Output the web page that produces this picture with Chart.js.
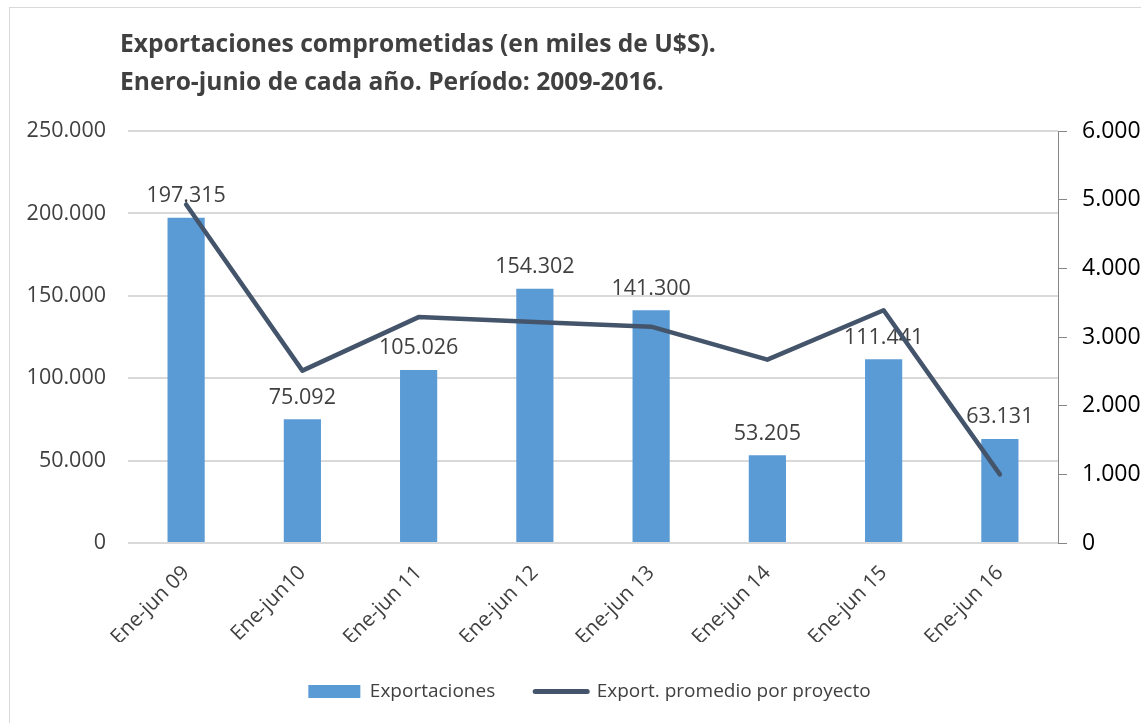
<!DOCTYPE html>
<html>
<head>
<meta charset="utf-8">
<script src="https://cdn.jsdelivr.net/npm/chart.js@4.4.0/dist/chart.umd.min.js"></script>
<style>
  html, body { margin: 0; padding: 0; background: #fff; overflow: hidden; }
  #wrap { position: relative; width: 1141px; height: 723px; }
  #frame { position: absolute; left: 9px; top: 7px; width: 1200px; height: 740px; border: 1px solid #d9d9d9; }
  canvas { position: absolute; left: 0; top: 0; }
</style>
</head>
<body>
<div id="wrap">
  <div id="frame"></div>
  <canvas id="chart" width="1141" height="723"></canvas>
</div>
<script>
// Exportaciones comprometidas, enero-junio 2009-2016
const categories = ['Ene-jun 09', 'Ene-jun10', 'Ene-jun 11', 'Ene-jun 12', 'Ene-jun 13', 'Ene-jun 14', 'Ene-jun 15', 'Ene-jun 16'];
const exportaciones = [197315, 75092, 105026, 154302, 141300, 53205, 111441, 63131];
const promedioProyecto = [4930, 2510, 3290, 3220, 3150, 2670, 3390, 1000];
const titleLines = ['Exportaciones comprometidas (en miles de U$S).', 'Enero-junio de cada año. Período: 2009-2016.'];

const FONT = '"Open Sans", "Noto Sans", sans-serif';
const TEXT = '#404040';
const BAR = '#5B9BD5';
const LINE = '#44546A';

function fmt(v) {
    return String(Math.round(v)).replace(/\B(?=(\d{3})+(?!\d))/g, '.');
}

// title drawn top-left, like the spreadsheet chart
const titlePlugin = {
    id: 'sheetTitle',
    afterDraw(chart) {
        const ctx = chart.ctx;
        ctx.save();
        ctx.fillStyle = TEXT;
        ctx.font = 'bold 24.6px ' + FONT;
        ctx.textBaseline = 'middle';
        ctx.textAlign = 'left';
        ctx.fillText(titleLines[0], 120, 45);
        ctx.fillText(titleLines[1], 120, 83);
        ctx.restore();
    }
};

// value labels above the bars, drawn before the line so the line sits on top
const barLabels = {
    id: 'barLabels',
    afterDatasetDraw(chart, args) {
        if (args.index !== 0) return;
        const ctx = chart.ctx;
        ctx.save();
        ctx.fillStyle = TEXT;
        ctx.font = '21.5px ' + FONT;
        ctx.textAlign = 'center';
        ctx.textBaseline = 'bottom';
        args.meta.data.forEach((bar, i) => {
            ctx.fillText(fmt(exportaciones[i]), bar.x, bar.y - 11);
        });
        ctx.restore();
    }
};

// the original chart is wider than the window, so its legend sits right of centre
const legendShift = {
    id: 'legendShift',
    afterLayout(chart) {
        chart.legend.left += 19;
        chart.legend.right += 19;
    }
};

const ctx = document.getElementById('chart').getContext('2d');
new Chart(ctx, {
    type: 'bar',
    data: {
        labels: categories,
        datasets: [{
            type: 'bar',
            label: 'Exportaciones',
            data: exportaciones,
            backgroundColor: BAR,
            borderWidth: 0,
            barPercentage: 0.32,
            categoryPercentage: 1,
            yAxisID: 'y',
            order: 1
        }, {
            type: 'line',
            label: 'Export. promedio por proyecto',
            data: promedioProyecto,
            borderColor: LINE,
            backgroundColor: LINE,
            borderWidth: 4.5,
            borderCapStyle: 'round',
            borderJoinStyle: 'round',
            pointRadius: 0,
            tension: 0,
            yAxisID: 'y1',
            order: 0
        }]
    },
    options: {
        responsive: false,
        animation: false,
        layout: { padding: { top: 131, left: 0, right: 0, bottom: 12 } },
        plugins: {
            title: { display: false },
            tooltip: { enabled: false },
            legend: {
                position: 'bottom',
                labels: {
                    usePointStyle: true,
                    pointStyleWidth: 52,
                    boxHeight: 13,
                    padding: 40,
                    color: TEXT,
                    font: { family: FONT, size: 19 },
                    generateLabels(chart) {
                        return [{
                            text: 'Exportaciones', datasetIndex: 0,
                            fillStyle: BAR, strokeStyle: BAR, lineWidth: 0,
                            pointStyle: 'rect', fontColor: TEXT
                        }, {
                            text: 'Export. promedio por proyecto', datasetIndex: 1,
                            fillStyle: LINE, strokeStyle: LINE, lineWidth: 5,
                            lineCap: 'round', pointStyle: 'line', fontColor: TEXT
                        }];
                    }
                }
            }
        },
        scales: {
            x: {
                grid: { display: false },
                border: { display: false },
                ticks: {
                    color: TEXT,
                    font: { family: FONT, size: 20.5 },
                    minRotation: 45,
                    maxRotation: 45,
                    padding: 10
                },
                afterFit(scale) { scale.height = 99; }
            },
            y: {
                position: 'left',
                min: 0,
                max: 250000,
                grid: { color: '#D9D9D9', lineWidth: 2, drawTicks: false },
                border: { display: false },
                ticks: {
                    stepSize: 50000,
                    color: TEXT,
                    font: { family: FONT, size: 21.5 },
                    padding: 22,
                    callback: v => fmt(v)
                },
                afterFit(scale) { scale.width = 128; }
            },
            y1: {
                position: 'right',
                min: 0,
                max: 6000,
                grid: { drawOnChartArea: false, color: '#868686', tickLength: 9 },
                border: { display: true, color: '#868686', width: 1 },
                ticks: {
                    stepSize: 1000,
                    color: '#000',
                    font: { family: FONT, size: 23 },
                    padding: 15,
                    callback: v => fmt(v)
                },
                afterFit(scale) { scale.width = 83; }
            }
        }
    },
    plugins: [titlePlugin, barLabels, legendShift]
});
</script>
</body>
</html>
